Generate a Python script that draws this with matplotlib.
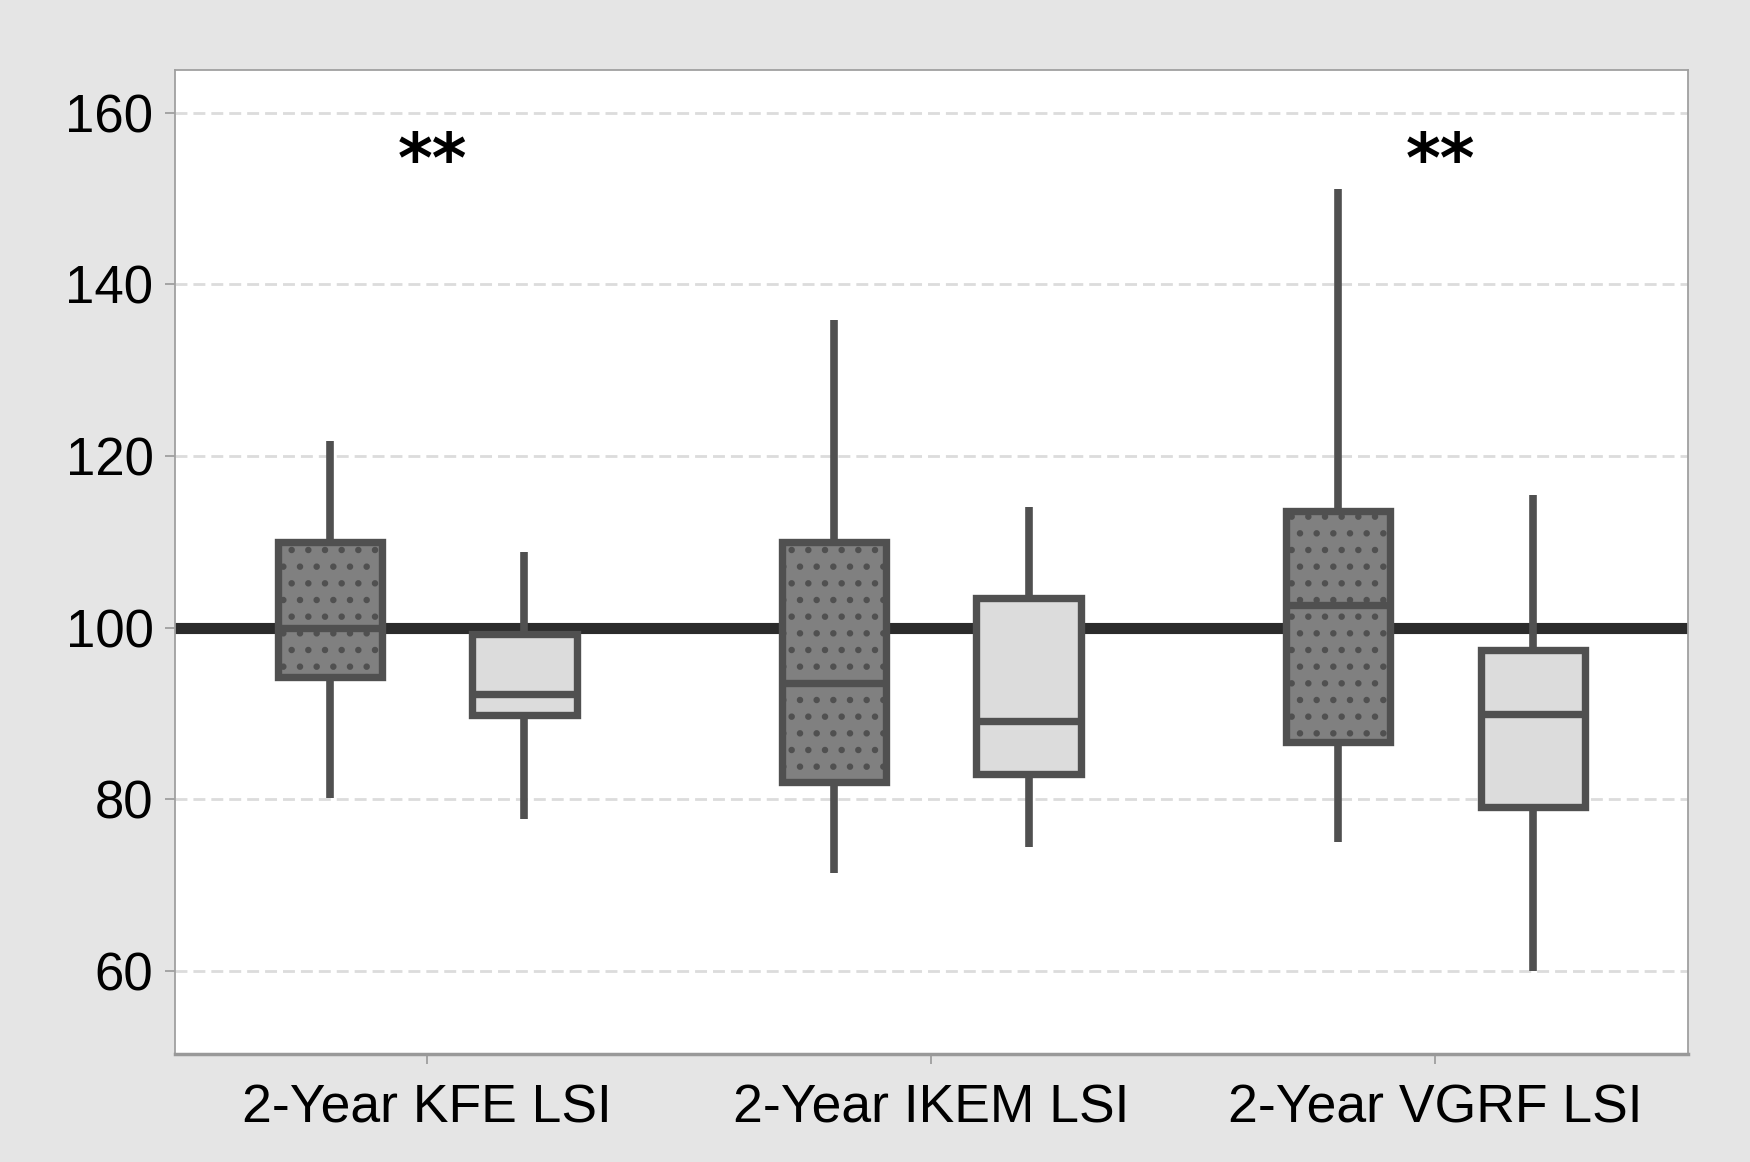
import matplotlib
matplotlib.use("Agg")
import matplotlib.pyplot as plt

categories = ["2-Year KFE LSI", "2-Year IKEM LSI", "2-Year VGRF LSI"]

# Dark (dotted) boxes
dark_whislo = [80.1, 71.4, 75.0]
dark_q1 = [94.3, 82.0, 86.7]
dark_med = [99.9, 93.6, 102.6]
dark_q3 = [110.0, 110.0, 113.6]
dark_whishi = [121.8, 135.9, 151.1]

# Light boxes
light_whislo = [77.7, 74.4, 60.0]
light_q1 = [89.8, 82.9, 79.1]
light_med = [92.3, 89.1, 89.9]
light_q3 = [99.3, 103.4, 97.4]
light_whishi = [108.8, 114.1, 115.5]

significance = ["**", "", "**"]
yticks = [60, 80, 100, 120, 140, 160]
reference_value = 100

plt.rcParams['font.family'] = ['Liberation Sans', 'DejaVu Sans']
plt.rcParams['lines.scale_dashes'] = False
plt.rcParams['hatch.linewidth'] = 2.2

fig = plt.figure(figsize=(17.5, 11.62), dpi=100, facecolor='#e5e5e5')
ax = fig.add_axes([0.1, 0.0929, 0.8643, 0.8469])
ax.set_facecolor('white')

edge = '#505050'


def stats(lo, q1, med, q3, hi):
    return [dict(whislo=a, q1=b, med=c, q3=d, whishi=e, fliers=[])
            for a, b, c, d, e in zip(lo, q1, med, q3, hi)]


x = list(range(len(categories)))
off = 0.193
w = 0.207
lw = 5.3

for st, pos, face, hatch in [
    (stats(dark_whislo, dark_q1, dark_med, dark_q3, dark_whishi), [p - off for p in x], '#808080', '.'),
    (stats(light_whislo, light_q1, light_med, light_q3, light_whishi), [p + off for p in x], '#dcdcdc', None),
]:
    bp = ax.bxp(st, positions=pos, widths=w, showcaps=False, showfliers=False,
                patch_artist=True,
                boxprops=dict(facecolor=face, edgecolor=edge, linewidth=lw, hatch=hatch),
                medianprops=dict(color=edge, linewidth=lw, solid_capstyle='butt'),
                whiskerprops=dict(color=edge, linewidth=5.5, solid_capstyle='butt'),
                zorder=3)
    for b in bp['boxes']:
        b.set_joinstyle('miter')

ax.axhline(reference_value, color='#2b2b2b', linewidth=8, zorder=2)

for xi, s in zip(x, significance):
    if s:
        ax.text(xi + 0.01, 154.2, s, ha='center', va='center', fontsize=48,
                fontweight='bold', color='black', family='DejaVu Sans', zorder=4)

ax.set_xlim(-0.5, 2.5)
ax.set_ylim(50.3, 165)
ax.set_yticks(yticks)
ax.set_xticks(x)
ax.set_xticklabels(categories)

ax.yaxis.grid(True, color='#dcdcdc', linewidth=2, linestyle=(0, (8.6, 4.3)), zorder=1)
ax.set_axisbelow(True)

ax.tick_params(axis='y', labelsize=38, length=7.5, width=1.2, color='#999999', pad=8)
ax.tick_params(axis='x', labelsize=38.5, length=7.5, width=1.2, color='#999999', pad=14)

for side in ['left', 'top', 'right']:
    ax.spines[side].set_color('#a0a0a0')
    ax.spines[side].set_linewidth(1.3)
ax.spines['bottom'].set_color('#999999')
ax.spines['bottom'].set_linewidth(2.5)

fig.savefig('out.png', dpi=100, facecolor=fig.get_facecolor())
